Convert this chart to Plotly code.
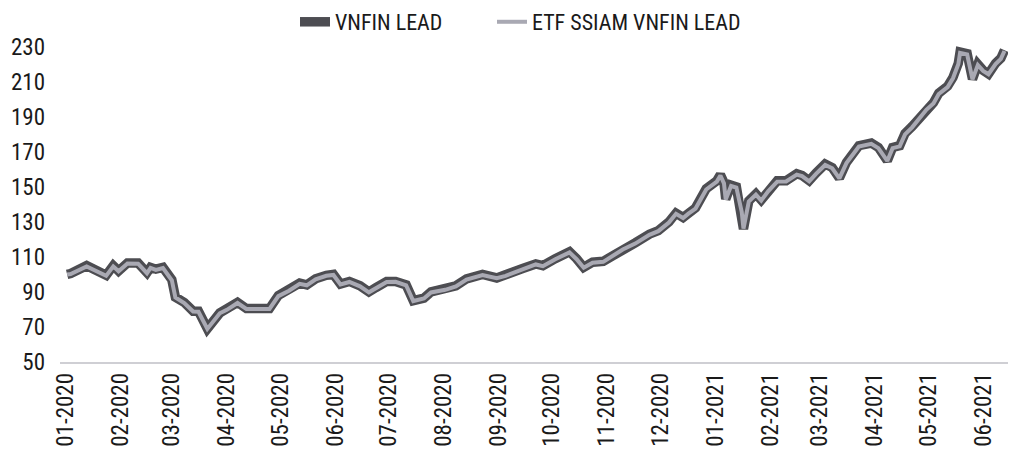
import plotly.graph_objects as go

dates = [
    "2020-01-02", "2020-01-04", "2020-01-13", "2020-01-17", "2020-01-24", "2020-01-28", "2020-01-31",
    "2020-02-05", "2020-02-11", "2020-02-16", "2020-02-18", "2020-02-21", "2020-02-25",
    "2020-03-01", "2020-03-03", "2020-03-08", "2020-03-13", "2020-03-16", "2020-03-21", "2020-03-28",
    "2020-04-01", "2020-04-07", "2020-04-12", "2020-04-18", "2020-04-25", "2020-04-30",
    "2020-05-06", "2020-05-12", "2020-05-16", "2020-05-21", "2020-05-27", "2020-05-31",
    "2020-06-04", "2020-06-09", "2020-06-15", "2020-06-20", "2020-06-24", "2020-06-30",
    "2020-07-05", "2020-07-11", "2020-07-15", "2020-07-21", "2020-07-25",
    "2020-08-02", "2020-08-08", "2020-08-14", "2020-08-23", "2020-08-31",
    "2020-09-05", "2020-09-15", "2020-09-22", "2020-09-26",
    "2020-10-03", "2020-10-11", "2020-10-15", "2020-10-19", "2020-10-24", "2020-10-30",
    "2020-11-05", "2020-11-10", "2020-11-17", "2020-11-25", "2020-11-30",
    "2020-12-06", "2020-12-10", "2020-12-14", "2020-12-17", "2020-12-21", "2020-12-27",
    "2021-01-02", "2021-01-04", "2021-01-06", "2021-01-07", "2021-01-10", "2021-01-13",
    "2021-01-16", "2021-01-17", "2021-01-20", "2021-01-24", "2021-01-27", "2021-01-31",
    "2021-02-05", "2021-02-10", "2021-02-16", "2021-02-19", "2021-02-23", "2021-02-27",
    "2021-03-04", "2021-03-08", "2021-03-12", "2021-03-16", "2021-03-20", "2021-03-23", "2021-03-30",
    "2021-04-03", "2021-04-08", "2021-04-11", "2021-04-15", "2021-04-18", "2021-04-22", "2021-04-26", "2021-04-30",
    "2021-05-04", "2021-05-07", "2021-05-12", "2021-05-15", "2021-05-18", "2021-05-19", "2021-05-23",
    "2021-05-26", "2021-05-29",
    "2021-06-01", "2021-06-04", "2021-06-08", "2021-06-11", "2021-06-13",
]

vnfin_lead = [
    100, 100.5, 105, 103, 99.5, 105, 102,
    106.5, 106.5, 101, 104, 103, 104,
    97, 87, 84, 79, 79, 69, 78,
    80, 84, 80.5, 80.5, 80.5, 88,
    91, 95, 94, 97.5, 99.5, 100,
    94.5, 96, 93.5, 90, 92.5, 96,
    96, 94, 85, 86.5, 90,
    91.5, 93.5, 97.5, 100, 98,
    99.5, 103.5, 106, 105,
    109, 113, 109, 104, 107, 107.5,
    111, 114.5, 118, 123, 125,
    130, 135, 132.5, 135, 138, 149,
    153.5, 157, 152.5, 143, 151, 150,
    136, 126, 142, 146, 142.5, 148,
    153.5, 153.5, 157.5, 156.5, 153.5, 158,
    163, 161, 155, 164, 169, 173.5, 175,
    172.5, 165, 172.5, 173.5, 180.5, 184.5, 189, 194.5,
    198, 203.5, 207.5, 212.5, 220.5, 227, 226,
    211.5, 220,
    216.5, 214.5, 220.5, 223.5, 228,
]

etf_ssiam = [
    100, 100.2, 104.6, 102.8, 99.2, 104.6, 101.8,
    106.2, 106.1, 100.7, 103.7, 102.6, 103.6,
    96.7, 86.8, 83.7, 78.8, 78.7, 68.9, 77.8,
    79.8, 83.7, 80.3, 80.2, 80.3, 87.6,
    90.7, 94.6, 93.8, 97.2, 99.2, 99.7,
    94.3, 95.7, 93.2, 89.8, 92.2, 95.7,
    95.8, 93.7, 84.8, 86.3, 89.7,
    91.2, 93.2, 97.1, 99.7, 97.8,
    99.2, 103.1, 105.7, 104.7,
    108.7, 112.6, 108.7, 103.8, 106.7, 107.2,
    110.7, 114.2, 117.6, 122.6, 124.7,
    129.6, 134.6, 132.2, 134.7, 137.6, 148.5,
    153, 156.5, 152, 142.8, 150.5, 149.6,
    135.8, 126.2, 141.6, 145.6, 142.2, 147.6,
    153, 153.1, 157, 156.1, 153.2, 157.6,
    162.5, 160.6, 154.8, 163.6, 168.5, 173, 174.6,
    172.1, 164.8, 172.1, 173.1, 180, 184, 188.6, 194,
    197.6, 203, 207, 212, 220, 226.5, 225.6,
    211.4, 219.6,
    216.2, 214.3, 220.1, 223.1, 227.6,
]

tick_dates = [
    "2020-01-01", "2020-02-01", "2020-03-01", "2020-04-01", "2020-05-01", "2020-06-01",
    "2020-07-01", "2020-08-01", "2020-09-01", "2020-10-01", "2020-11-01", "2020-12-01",
    "2021-01-01", "2021-02-01", "2021-03-01", "2021-04-01", "2021-05-01", "2021-06-01",
]
tick_labels = [
    "01-2020", "02-2020", "03-2020", "04-2020", "05-2020", "06-2020",
    "07-2020", "08-2020", "09-2020", "10-2020", "11-2020", "12-2020",
    "01-2021", "02-2021", "03-2021", "04-2021", "05-2021", "06-2021",
]
y_ticks = [50, 70, 90, 110, 130, 150, 170, 190, 210, 230]

assert len(dates) == len(vnfin_lead) == len(etf_ssiam)

FONT = "Liberation Sans Narrow, Arial Narrow, Roboto Condensed, Liberation Sans, sans-serif"

fig = go.Figure()
fig.add_trace(go.Scatter(
    x=dates, y=vnfin_lead, name="VNFIN LEAD", mode="lines",
    line=dict(color="#4d4d52", width=9.5), legend="legend",
))
fig.add_trace(go.Scatter(
    x=dates, y=etf_ssiam, name="ETF SSIAM VNFIN LEAD", mode="lines",
    line=dict(color="#a9a9b3", width=4), legend="legend2",
))

legend_common = dict(
    orientation="h", xref="container", xanchor="left",
    yref="container", y=0.952, yanchor="middle",
    font=dict(family=FONT, size=22, color="#1a1a1a"),
    itemwidth=30, bgcolor="rgba(0,0,0,0)",
)

fig.update_layout(
    width=1011, height=458,
    margin=dict(l=60, r=3, t=45, b=96, autoexpand=False),
    paper_bgcolor="white", plot_bgcolor="white",
    font=dict(family=FONT, size=23, color="#1a1a1a"),
    showlegend=True,
    legend=dict(legend_common, x=295 / 1011),
    legend2=dict(legend_common, x=492 / 1011),
    xaxis=dict(
        type="date", range=["2019-12-29", "2021-06-15"],
        tickmode="array", tickvals=tick_dates, ticktext=tick_labels,
        tickangle=-90, showgrid=False, zeroline=False,
        showline=True, linecolor="#cfcfd4", linewidth=1.5,
        ticks="", tickfont=dict(family=FONT, size=23, color="#1a1a1a"),
        automargin=False,
    ),
    yaxis=dict(
        range=[50, 231], tickmode="array", tickvals=y_ticks,
        showgrid=False, zeroline=False, showline=False, ticks="",
        ticklabelstandoff=14, automargin=False,
        tickfont=dict(family=FONT, size=23, color="#1a1a1a"),
    ),
)

fig.write_html(
    "out.html",
    config={"displayModeBar": False},
    post_script="document.body.style.margin='0';document.body.style.padding='0';",
)
